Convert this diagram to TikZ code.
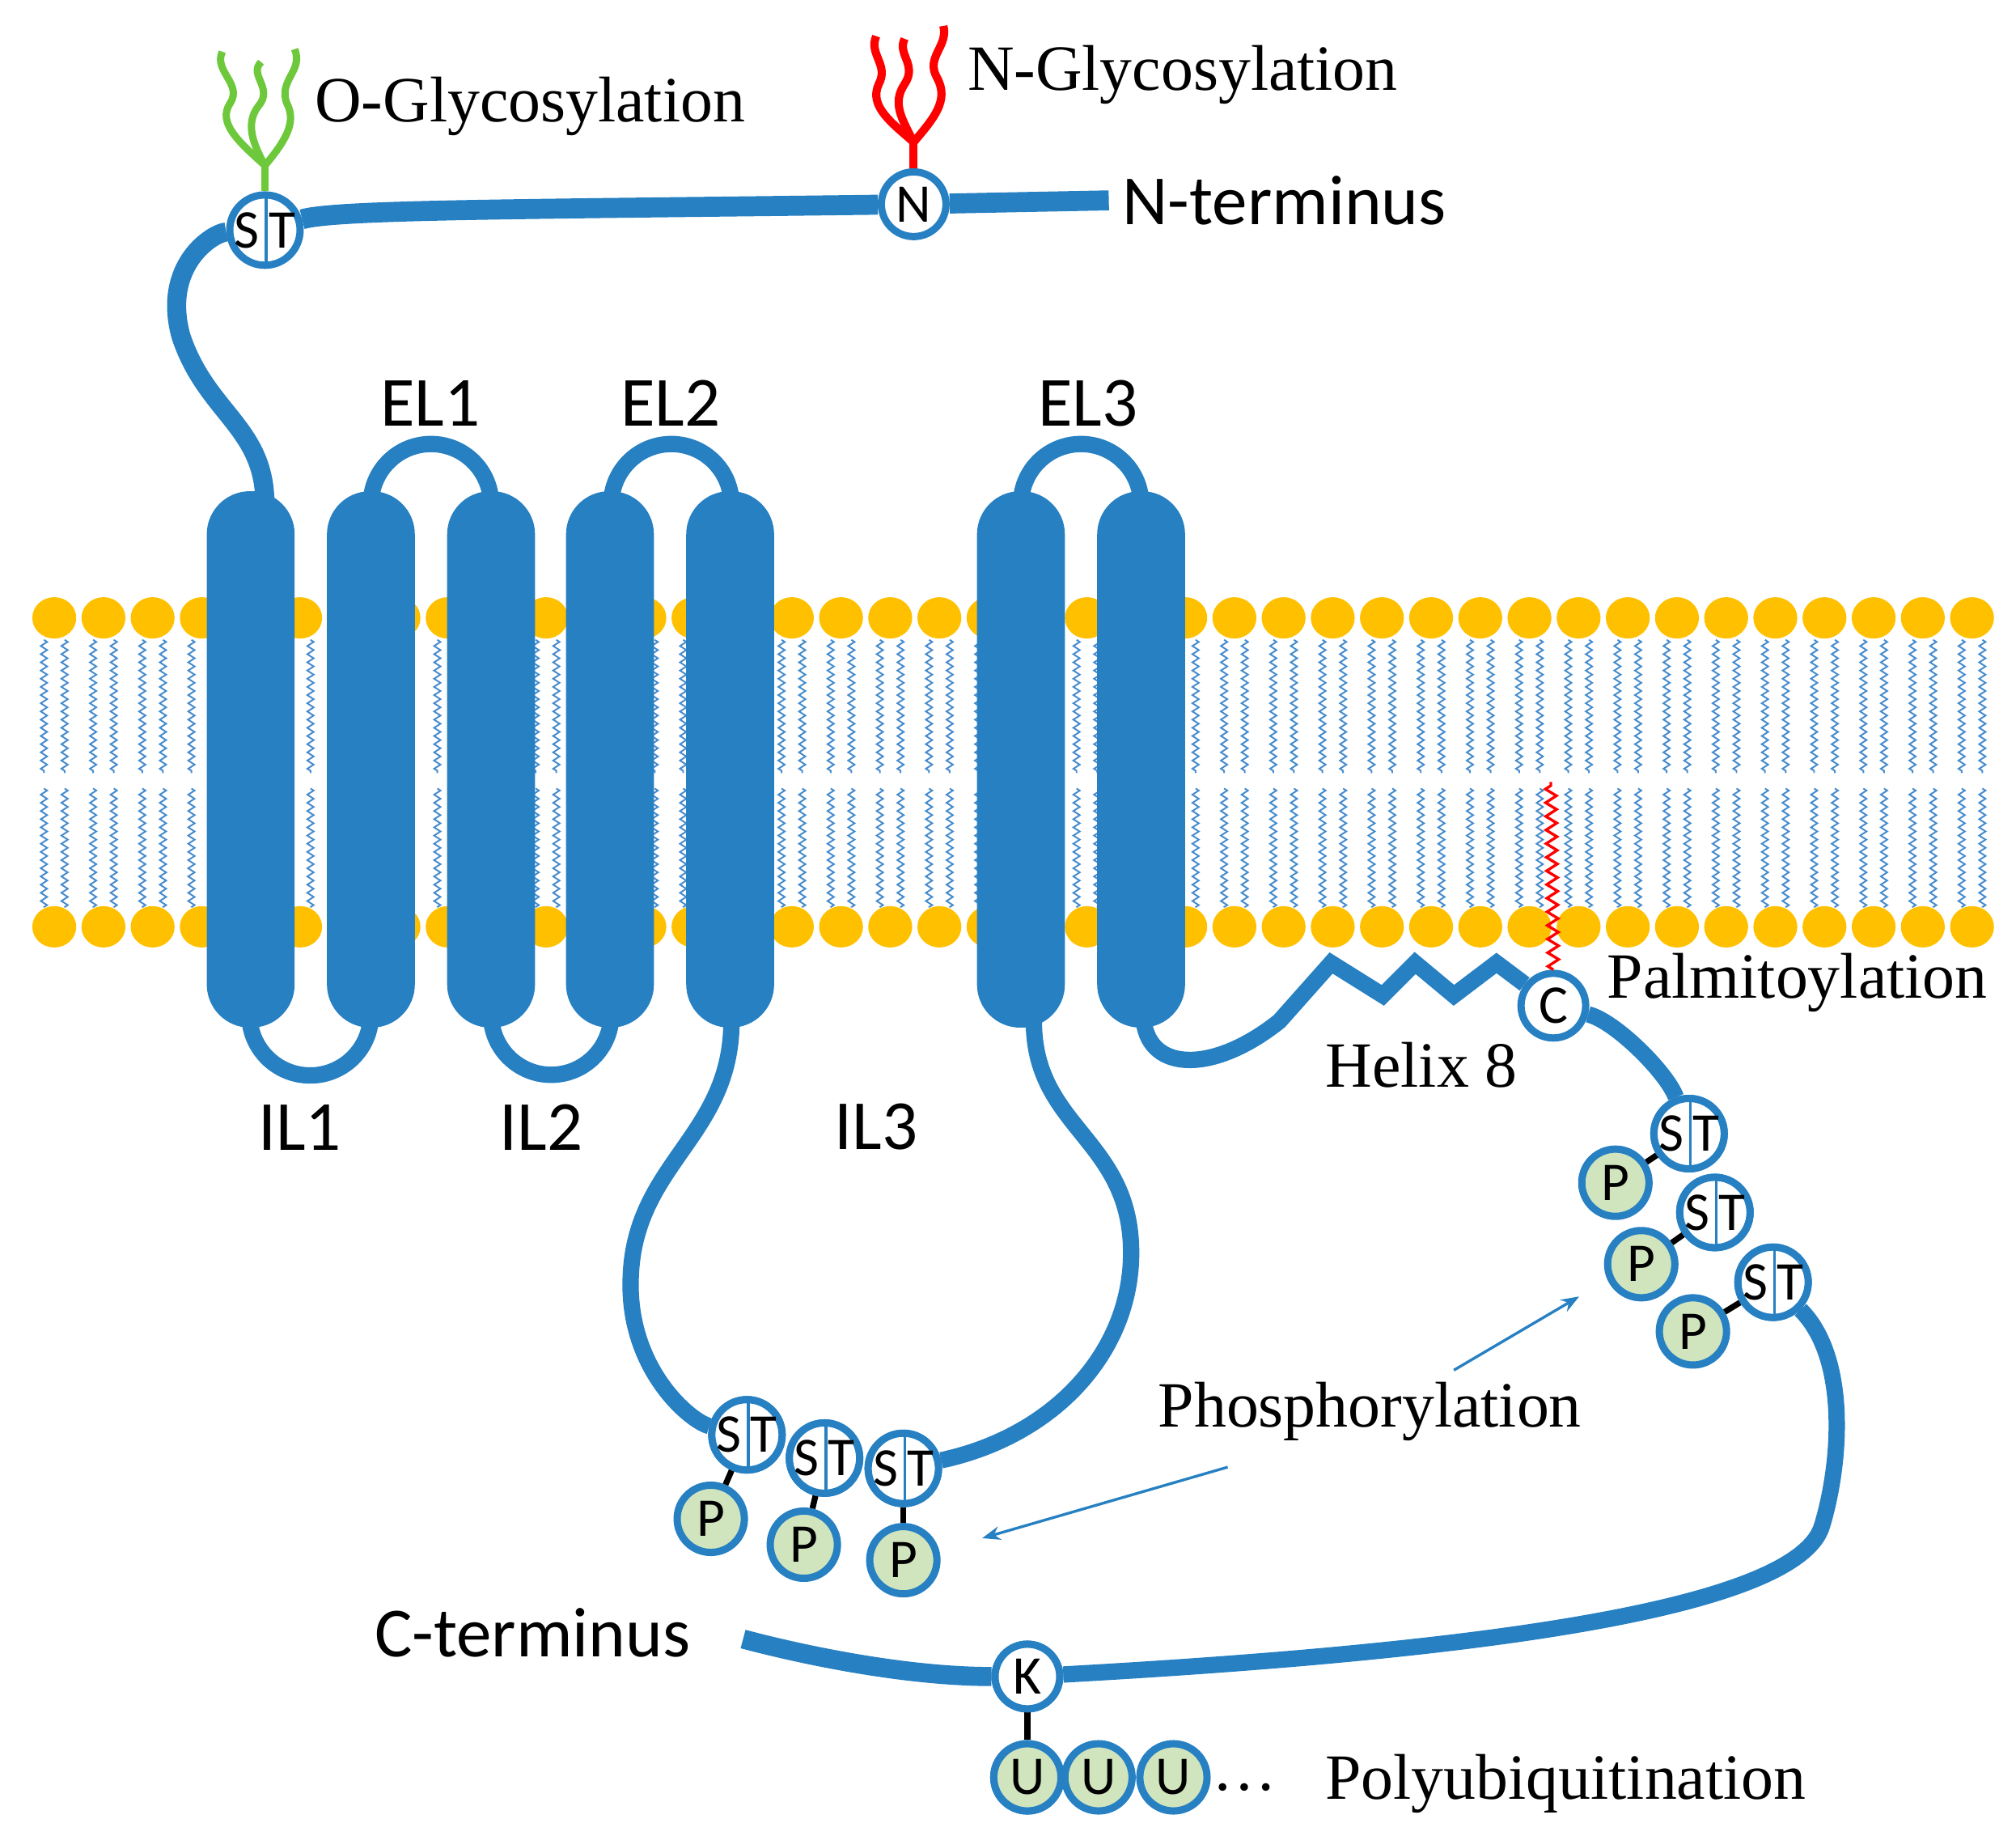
\documentclass[tikz,border=0pt]{standalone}
\usepackage{fontspec}
\setmainfont{Liberation Serif}
\newfontfamily\carl{Carlito}
\usetikzlibrary{decorations.pathmorphing,arrows.meta}
\definecolor{prot}{RGB}{38,128,194}
\definecolor{head}{RGB}{255,192,0}
\definecolor{tail}{RGB}{70,140,205}
\definecolor{pg}{RGB}{208,228,190}
\definecolor{gly}{RGB}{110,200,60}
\begin{document}
\begin{tikzpicture}[x=0.01cm,y=-0.01cm,
  res/.style={circle,draw=prot,line width=1.6pt,fill=white,minimum size=0.5cm,inner sep=0pt,font=\carl\fontsize{12}{12}\selectfont},
  st/.style={res,path picture={\draw[prot,line width=0.6pt]([xshift=0.3pt]path picture bounding box.north) -- ([xshift=0.3pt]path picture bounding box.south);}},
  ph/.style={res,fill=pg,minimum size=0.52cm},
  lnk/.style={line width=1.3pt,black},
  loop/.style={prot,line width=3.6pt},
  helix/.style={fill=prot,draw=none,rounded corners=9.5pt},
  tl/.style={tail,line width=0.35pt,decorate,decoration={zigzag,segment length=1.8pt,amplitude=0.7pt}},
  sans/.style={font=\carl\fontsize{15.5}{15.5}\selectfont,inner sep=0pt},
  ser/.style={font=\fontsize{14.2}{14.2}\selectfont,inner sep=0pt},
  pointer/.style={prot,line width=0.6pt,-{Stealth[length=4pt,width=3pt]}}]
\useasboundingbox (0,0) rectangle (1560,1420);
% lipid bilayer
\foreach \i in {0,...,39}{
  \pgfmathsetmacro{\xx}{42+38.05*\i}
  \draw[tl] (\xx-8,495) -- (\xx-8,598);
  \draw[tl] (\xx+8,495) -- (\xx+8,598);
  \draw[tl] (\xx-8,610) -- (\xx-8,702);
  \draw[tl] (\xx+8,610) -- (\xx+8,702);
  \fill[head] (\xx,478) ellipse (17 and 16);
  \fill[head] (\xx,717) ellipse (17 and 16);
}
% palmitoyl
\coordinate (palm) at (1200,605);
% N-terminal tail
\node[st] (st0) at (205,178) {S\,T};
\node[res] (nres) at (707,158) {N};
\coordinate (nend) at (858,155);
\coordinate (h1t) at (205,390);
\draw[prot,line width=4.2pt] (h1t) .. controls (205,330) and (160,320) .. (140,260) .. controls (125,205) and (165,180) .. (st0);
\draw[prot,line width=4.4pt] (st0) .. controls (260,162) and (400,162) .. (nres);
\draw[prot,line width=4.4pt] (nres) -- (nend);
% glycosylations
\draw[gly,line width=1.6pt] (st0.north) -- (205,128);
\draw[gly,line width=1.6pt] (205,128) .. controls (185,110) and (168,95) .. (178,80) .. controls (188,65) and (165,55) .. (172,40);
\draw[gly,line width=1.6pt] (205,128) .. controls (195,110) and (190,95) .. (200,82) .. controls (212,68) and (192,58) .. (202,48);
\draw[gly,line width=1.6pt] (205,128) .. controls (220,110) and (230,95) .. (222,80) .. controls (215,62) and (235,55) .. (228,38);
\draw[red,line width=1.8pt] (nres.north) -- (707,110);
\draw[red,line width=1.8pt] (707,110) .. controls (690,95) and (672,82) .. (680,65) .. controls (688,50) and (672,42) .. (678,28);
\draw[red,line width=1.8pt] (707,110) .. controls (698,92) and (690,80) .. (700,65) .. controls (710,50) and (694,42) .. (700,30);
\draw[red,line width=1.8pt] (707,110) .. controls (722,92) and (735,78) .. (725,60) .. controls (716,44) and (734,36) .. (730,20);
% loops
\draw[loop] (287,390) arc[start angle=180,end angle=360,radius=46.5];
\draw[loop] (473,390) arc[start angle=180,end angle=360,radius=46.5];
\draw[loop] (790,390) arc[start angle=180,end angle=360,radius=46.5];
\draw[loop] (193,785) arc[start angle=180,end angle=0,radius=47];
\draw[loop] (380,785) arc[start angle=180,end angle=0,radius=46.5];
% helices
\foreach \n/\x in {h1/160,h2/253,h3/346,h4/438,h5/531,h6/756,h7/849}{
  \draw[helix] (\x,380) rectangle (\x+68,795);
}
% IL3
\node[st] (st1) at (578,1110) {S\,T};
\node[st] (st2) at (638,1128) {S\,T};
\node[st] (st3) at (699,1136) {S\,T};
\draw[loop] (566,790) .. controls (566,880) and (490,900) .. (488,990) .. controls (486,1060) and (535,1100) .. (st1);
\draw[loop] (st3) .. controls (820,1110) and (880,1040) .. (875,960) .. controls (870,880) and (800,870) .. (800,790);
\node[ph] (p1) at (550,1175) {P};
\node[ph] (p2) at (622,1195) {P};
\node[ph] (p3) at (699,1207) {P};
\draw[lnk] (st1) -- (p1); \draw[lnk] (st2) -- (p2); \draw[lnk] (st3) -- (p3);
\foreach \n in {st1,st2,st3} \node[st] at (\n) {S\,T};
% helix 8
\node[res] (cres) at (1202,778) {C};
\draw[red,line width=0.6pt,decorate,decoration={zigzag,segment length=3pt,amplitude=1.2pt}] (cres.north) -- (palm);
\draw[prot,line width=3.6pt,line join=miter] (885,790) .. controls (890,830) and (940,830) .. (990,790) -- (1030,745) -- (1070,770) -- (1095,745) -- (1125,770) -- (1158,745) -- (cres);
% C-terminal tail
\node[st] (st4) at (1307,877) {S\,T};
\node[st] (st5) at (1327,938) {S\,T};
\node[st] (st6) at (1372,992) {S\,T};
\node[res] (kres) at (795,1297) {K};
\coordinate (cend) at (575,1268);
\draw[loop] (cres) .. controls (1250,790) and (1290,830) .. (st4);
\draw[loop] (st6) .. controls (1430,1050) and (1425,1130) .. (1410,1180) .. controls (1390,1250) and (1100,1280) .. (kres);
\draw[prot,line width=4.2pt] (kres) .. controls (700,1297) and (620,1280) .. (cend);
\node[ph] (p4) at (1250,915) {P};
\node[ph] (p5) at (1270,978) {P};
\node[ph] (p6) at (1310,1030) {P};
\draw[lnk] (st4) -- (p4); \draw[lnk] (st5) -- (p5); \draw[lnk] (st6) -- (p6);
\foreach \n in {st4,st5,st6} \node[st] at (\n) {S\,T};
\node[ph] (u1) at (795,1375) {U};
\node[ph] (u2) at (850,1375) {U};
\node[ph] (u3) at (908,1375) {U};
\draw[lnk] (kres) -- (u1);
\node[res] at (kres) {K};
\node[ph] at (u1) {U};
% labels
\node[ser,anchor=west] (og) at (243,82) {O-Glycosylation};
\node[ser,anchor=west] (ng) at (748,58) {N-Glycosylation};
\node[sans,anchor=west] (nt) at (868,155) {N-terminus};
\node[sans] (el1) at (333,312) {EL1};
\node[sans] (el2) at (519,312) {EL2};
\node[sans] (el3) at (842,312) {EL3};
\node[sans] (il1) at (232,872) {IL1};
\node[sans] (il2) at (419,872) {IL2};
\node[sans] (il3) at (678,872) {IL3};
\node[ser,anchor=west] (pal) at (1243,760) {Palmitoylation};
\node[ser] (h8) at (1100,824) {Helix 8};
\node[ser] (phos) at (1060,1092) {Phosphorylation};
\node[sans] (ct) at (412,1263) {C-terminus};
\node[ser] (dots) at (963,1383) {\dots};
\node[ser,anchor=west] (pu) at (1025,1380) {Polyubiquitination};
\coordinate (a1) at (760,1190);
\coordinate (a2) at (1222,1003);
\draw[pointer] (950,1135) -- (a1);
\draw[pointer] (1125,1060) -- (a2);
\end{tikzpicture}
\end{document}
